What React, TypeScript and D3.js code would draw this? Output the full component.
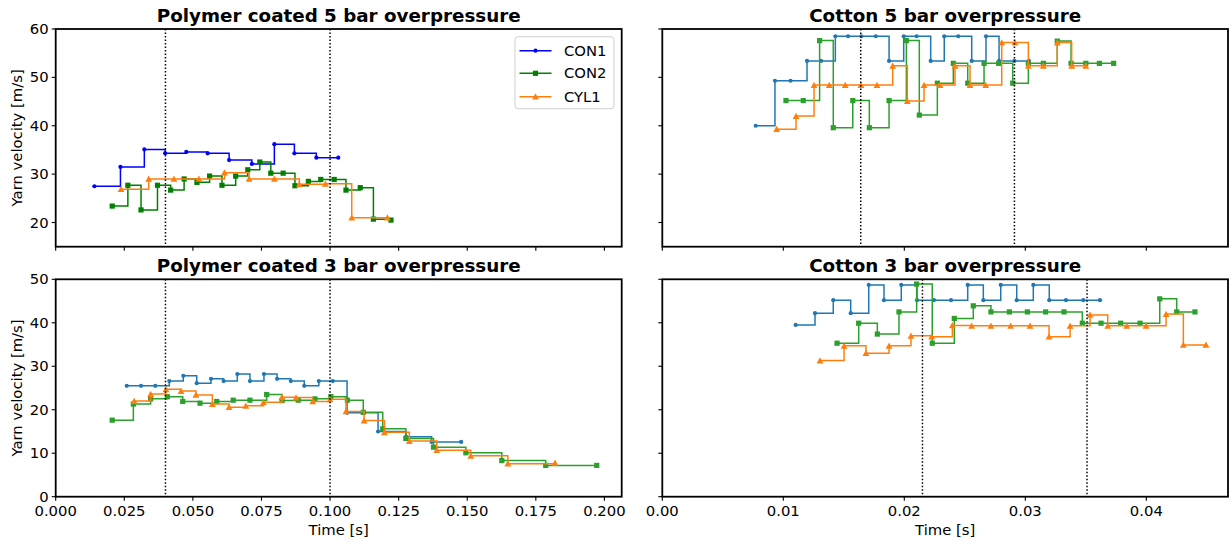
import React from "react";
import * as d3 from "d3";

// ---------- data ----------
const seriesNames = ["CON1", "CON2", "CYL1"];
const panelTitles = [
  "Polymer coated 5 bar overpressure",
  "Cotton 5 bar overpressure",
  "Polymer coated 3 bar overpressure",
  "Cotton 3 bar overpressure",
];
const xTicksLeft = [0, 0.025, 0.05, 0.075, 0.1, 0.125, 0.15, 0.175, 0.2];
const xTicksRight = [0, 0.01, 0.02, 0.03, 0.04];
const yTicksTop = [20, 30, 40, 50, 60];
const yTicksBottom = [0, 10, 20, 30, 40, 50];

// Polymer coated 5 bar
const pc5Con1T = [0.0141, 0.0236, 0.0323, 0.0399, 0.0476, 0.0554, 0.0632, 0.0715, 0.0797, 0.087, 0.095, 0.103];
const pc5Con1V = [27.5, 31.5, 35.1, 34.3, 34.6, 34.3, 32.9, 32.1, 36.2, 34.3, 33.4, 33.4];
const pc5Con2T = [0.0206, 0.0263, 0.0311, 0.0371, 0.0419, 0.0468, 0.0515, 0.0561, 0.0606, 0.0656, 0.07, 0.0744, 0.0784, 0.0829, 0.0872, 0.0921, 0.0966, 0.1015, 0.1058, 0.111, 0.1158, 0.1222];
const pc5Con2V = [23.4, 27.7, 22.6, 27.7, 26.7, 29.0, 28.3, 29.6, 27.7, 29.6, 30.9, 32.5, 30.2, 30.2, 27.6, 28.5, 28.9, 28.9, 26.7, 27.2, 20.7, 20.5];
const pc5Cyl1T = [0.0238, 0.0339, 0.0431, 0.0522, 0.0615, 0.0705, 0.0797, 0.0888, 0.0983, 0.1079, 0.1209];
const pc5Cyl1V = [26.9, 29.0, 29.0, 29.0, 30.3, 29.0, 29.0, 27.9, 28.0, 21.0, 21.0];
const pc5Marks = [0.04, 0.1];

// Cotton 5 bar
const c5Con1T = [0.00772, 0.00931, 0.0106, 0.01196, 0.01312, 0.0143, 0.01535, 0.01645, 0.01764, 0.01874, 0.01995, 0.02102, 0.02218, 0.0233, 0.02446, 0.02557, 0.02675, 0.02783, 0.0291, 0.0303];
const c5Con1V = [40.0, 49.3, 49.3, 53.4, 53.4, 58.5, 58.5, 58.5, 58.5, 53.4, 58.5, 58.5, 53.4, 58.5, 58.5, 53.4, 58.5, 53.4, 53.4, 53.4];
const c5Con2T = [0.01022, 0.01165, 0.013, 0.01413, 0.01574, 0.01711, 0.01874, 0.02017, 0.02124, 0.02273, 0.02405, 0.02524, 0.02659, 0.0278, 0.02896, 0.03025, 0.03149, 0.03264, 0.03378, 0.035, 0.03612, 0.0373];
const c5Con2V = [45.2, 45.2, 57.6, 39.6, 45.2, 39.6, 45.2, 57.6, 42.2, 48.8, 52.9, 48.8, 52.9, 52.9, 48.8, 52.9, 52.9, 57.5, 52.9, 52.9, 52.9, 52.9];
const c5Cyl1T = [0.00945, 0.01105, 0.01254, 0.0138, 0.01512, 0.01642, 0.01774, 0.01904, 0.02025, 0.02163, 0.02295, 0.02419, 0.02543, 0.02673, 0.02805, 0.02915, 0.03025, 0.03149, 0.03264, 0.03383, 0.035];
const c5Cyl1V = [39.3, 42.0, 48.4, 48.4, 48.4, 48.4, 48.4, 52.4, 45.1, 48.4, 48.4, 52.4, 48.4, 48.4, 57.2, 57.2, 52.4, 52.4, 57.2, 52.4, 52.4];
const c5Marks = [0.0164, 0.0291];

// Polymer coated 3 bar
const pc3Con1T = [0.0259, 0.0311, 0.0363, 0.0414, 0.0465, 0.0514, 0.0566, 0.0612, 0.0662, 0.0708, 0.0759, 0.0807, 0.0857, 0.0906, 0.0959, 0.101, 0.1062, 0.1175, 0.1277, 0.137, 0.1478];
const pc3Con1V = [25.5, 25.5, 25.5, 26.6, 27.8, 26.1, 27.1, 26.6, 28.2, 26.6, 28.2, 27.1, 26.6, 25.5, 26.6, 26.6, 19.3, 15.0, 13.8, 12.6, 12.6];
const pc3Con2T = [0.0206, 0.0283, 0.0346, 0.0407, 0.0463, 0.0526, 0.0587, 0.0647, 0.0708, 0.0769, 0.0825, 0.0884, 0.0945, 0.1003, 0.1063, 0.1121, 0.1192, 0.1276, 0.1377, 0.1495, 0.1626, 0.1786, 0.1972];
const pc3Con2V = [17.6, 21.3, 22.5, 23.0, 21.9, 21.5, 21.9, 22.2, 22.2, 23.5, 22.1, 22.2, 22.5, 23.0, 22.2, 19.4, 15.6, 13.4, 11.4, 10.1, 8.3, 7.2, 7.2];
const pc3Cyl1T = [0.0286, 0.0346, 0.0402, 0.0457, 0.0511, 0.0571, 0.0632, 0.0693, 0.0757, 0.0825, 0.0876, 0.0937, 0.1, 0.1058, 0.1124, 0.1198, 0.1289, 0.1389, 0.1513, 0.1648, 0.182];
const pc3Cyl1V = [22.0, 23.6, 24.7, 24.3, 23.4, 21.3, 20.6, 20.9, 21.7, 22.9, 22.8, 21.9, 22.4, 19.6, 17.5, 14.8, 12.8, 10.7, 9.4, 7.6, 7.8];
const pc3Marks = [0.04, 0.1];

// Cotton 3 bar
const c3Con1T = [0.01102, 0.01262, 0.01413, 0.01557, 0.01706, 0.01832, 0.01975, 0.02105, 0.02245, 0.02386, 0.02524, 0.02653, 0.02797, 0.02929, 0.03066, 0.03198, 0.03336, 0.03479, 0.03617];
const c3Con1V = [39.5, 42.2, 45.2, 42.2, 48.7, 45.2, 48.7, 45.2, 45.2, 45.2, 48.7, 45.2, 48.7, 45.2, 48.7, 45.2, 45.2, 45.2, 45.2];
const c3Con2T = [0.01444, 0.01623, 0.01777, 0.01956, 0.02102, 0.02231, 0.02413, 0.0257, 0.02716, 0.02868, 0.03017, 0.03168, 0.0332, 0.03471, 0.03626, 0.03788, 0.03948, 0.04111, 0.04251, 0.04402];
const c3Con2V = [35.3, 39.9, 37.4, 42.5, 48.9, 35.3, 41.0, 43.9, 42.5, 42.5, 42.5, 42.5, 42.5, 39.9, 39.9, 39.9, 39.9, 45.5, 42.5, 42.5];
const c3Cyl1T = [0.01303, 0.01502, 0.01683, 0.01874, 0.02055, 0.02226, 0.02397, 0.02557, 0.02716, 0.02879, 0.03039, 0.03196, 0.0337, 0.03535, 0.03681, 0.03838, 0.03998, 0.04163, 0.04306, 0.04493];
const c3Cyl1V = [31.3, 34.7, 33.0, 34.7, 37.0, 36.8, 39.4, 39.3, 39.3, 39.3, 39.3, 36.8, 39.3, 41.8, 39.3, 39.3, 39.3, 42.0, 34.9, 34.9];
const c3Marks = [0.0215, 0.0351];

// ---------- layout ----------
const W = 1232;
const H = 546;
const FONT = "'DejaVu Sans', sans-serif";
const colsX = [
  [55.7, 621.7],
  [662.3, 1228],
];
const rowsY = [
  [29, 246.7],
  [279.3, 496.7],
];
const xDomains = [
  [0, 0.2063],
  [0, 0.04675],
];
const yDomains = [
  [15, 60],
  [0, 50],
];
const palettePure = ["#0000ff", "#008000", "#ff7f0e"];
const paletteTab = ["#1f77b4", "#2ca02c", "#ff7f0e"];

type Panel = {
  row: number;
  col: number;
  title: string;
  series: [number[], number[]][];
  marks: number[];
  colors: string[];
};

const panels: Panel[] = [
  { row: 0, col: 0, title: panelTitles[0], series: [[pc5Con1T, pc5Con1V], [pc5Con2T, pc5Con2V], [pc5Cyl1T, pc5Cyl1V]], marks: pc5Marks, colors: palettePure },
  { row: 0, col: 1, title: panelTitles[1], series: [[c5Con1T, c5Con1V], [c5Con2T, c5Con2V], [c5Cyl1T, c5Cyl1V]], marks: c5Marks, colors: paletteTab },
  { row: 1, col: 0, title: panelTitles[2], series: [[pc3Con1T, pc3Con1V], [pc3Con2T, pc3Con2V], [pc3Cyl1T, pc3Cyl1V]], marks: pc3Marks, colors: paletteTab },
  { row: 1, col: 1, title: panelTitles[3], series: [[c3Con1T, c3Con1V], [c3Con2T, c3Con2V], [c3Cyl1T, c3Cyl1V]], marks: c3Marks, colors: paletteTab },
];

function Marker({ kind, x, y, color }: { kind: number; x: number; y: number; color: string }) {
  if (kind === 0) return <circle cx={x} cy={y} r={2.1} fill={color} />;
  if (kind === 1) return <rect x={x - 2.6} y={y - 2.6} width={5.2} height={5.2} fill={color} />;
  const s = 3.4;
  return <path d={`M${x},${y - s} L${x + s},${y + s * 0.85} L${x - s},${y + s * 0.85} Z`} fill={color} />;
}

function PanelView({ p }: { p: Panel }) {
  const [x0, x1] = colsX[p.col];
  const [y0, y1] = rowsY[p.row];
  const xs = d3.scaleLinear().domain(xDomains[p.col]).range([x0, x1]);
  const ys = d3.scaleLinear().domain(yDomains[p.row]).range([y1, y0]);
  const xt = p.col === 0 ? xTicksLeft : xTicksRight;
  const yt = p.row === 0 ? yTicksTop : yTicksBottom;
  const xFmt = p.col === 0 ? d3.format(".3f") : d3.format(".2f");
  const line = d3
    .line<[number, number]>()
    .x((d) => xs(d[0]))
    .y((d) => ys(d[1]))
    .curve(d3.curveStepAfter);
  const clipId = `clip-${p.row}-${p.col}`;
  return (
    <g>
      <defs>
        <clipPath id={clipId}>
          <rect x={x0} y={y0} width={x1 - x0} height={y1 - y0} />
        </clipPath>
      </defs>
      <g clipPath={`url(#${clipId})`}>
        {p.series.map(([t, v], si) => {
          const pts = t.map((tt, i) => [tt, v[i]] as [number, number]);
          return (
            <g key={si}>
              <path d={line(pts) || ""} fill="none" stroke={p.colors[si]} strokeWidth={1.5} />
              {pts.map((d, i) => (
                <Marker key={i} kind={si} x={xs(d[0])} y={ys(d[1])} color={p.colors[si]} />
              ))}
            </g>
          );
        })}
        {p.marks.map((m, i) => (
          <line key={i} x1={xs(m)} x2={xs(m)} y1={y0} y2={y1} stroke="#000" strokeWidth={1.5} strokeDasharray="1.5,2" />
        ))}
      </g>
      {/* spines */}
      <rect x={x0} y={y0} width={x1 - x0} height={y1 - y0} fill="none" stroke="#000" strokeWidth={1.8} />
      {/* x ticks */}
      {xt.map((t, i) => (
        <g key={i}>
          <line x1={xs(t)} x2={xs(t)} y1={y1} y2={y1 + 4} stroke="#000" strokeWidth={1.1} />
          {p.row === 1 && (
            <text x={xs(t)} y={y1 + 19} textAnchor="middle" fontSize={14.8} fontFamily={FONT} fill="#000">
              {xFmt(t)}
            </text>
          )}
        </g>
      ))}
      {/* y ticks */}
      {yt.map((t, i) => (
        <g key={i}>
          <line x1={x0 - 4} x2={x0} y1={ys(t)} y2={ys(t)} stroke="#000" strokeWidth={1.1} />
          {p.col === 0 && (
            <text x={x0 - 7} y={ys(t) + 5} textAnchor="end" fontSize={14.8} fontFamily={FONT} fill="#000">
              {t}
            </text>
          )}
        </g>
      ))}
      {/* title */}
      <text x={(x0 + x1) / 2} y={y0 - 7} textAnchor="middle" fontSize={18.3} fontWeight="bold" fontFamily={FONT} fill="#000">
        {p.title}
      </text>
      {p.row === 1 && (
        <text x={(x0 + x1) / 2} y={y1 + 38} textAnchor="middle" fontSize={14.8} fontFamily={FONT} fill="#000">
          Time [s]
        </text>
      )}
      {p.col === 0 && (
        <text
          transform={`translate(${22},${(y0 + y1) / 2}) rotate(-90)`}
          textAnchor="middle"
          fontSize={14.8}
          fontFamily={FONT}
          fill="#000"
        >
          Yarn velocity [m/s]
        </text>
      )}
    </g>
  );
}

function Legend() {
  const lx = 515;
  const ly = 36.7;
  const rows = [50.7, 73.3, 96.7];
  return (
    <g>
      <rect x={lx} y={ly} width={99} height={72} rx={3} fill="#fff" fillOpacity={0.8} stroke="#d0d0d0" strokeWidth={1} />
      {seriesNames.map((n, i) => (
        <g key={n}>
          <line x1={519.5} x2={551.5} y1={rows[i]} y2={rows[i]} stroke={palettePure[i]} strokeWidth={1.5} />
          <Marker kind={i} x={535.5} y={rows[i]} color={palettePure[i]} />
          <text x={564} y={rows[i] + 5} fontSize={14.8} fontFamily={FONT} fill="#000">
            {n}
          </text>
        </g>
      ))}
    </g>
  );
}

export default function App() {
  return (
    <svg
      width={W}
      height={H}
      viewBox={`0 0 ${W} ${H}`}
      style={{ position: "absolute", left: 0, top: 0, background: "#fff" }}
    >
      <rect x={0} y={0} width={W} height={H} fill="#fff" />
      {panels.map((p, i) => (
        <PanelView key={i} p={p} />
      ))}
      <Legend />
    </svg>
  );
}
